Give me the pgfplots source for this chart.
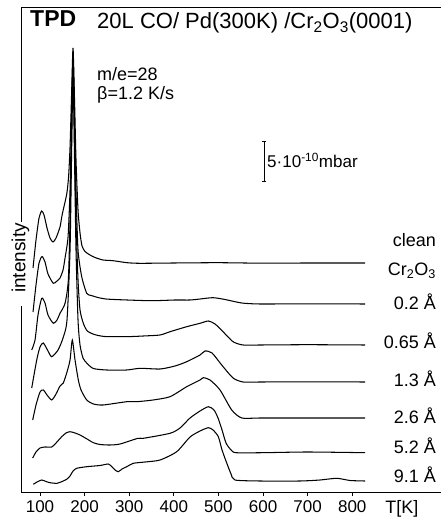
\documentclass[border=0pt]{standalone}
\usepackage{fontspec}
\setmainfont{Liberation Sans}
\usepackage{pgfplots}
\pgfplotsset{compat=1.18}
\newcommand\fs[1]{\fontsize{#1}{#1}\selectfont}
\begin{document}
\begin{tikzpicture}
\begin{axis}[
  name=ax,
  at={(0,0)}, anchor=south west,
  scale only axis, width=425pt, height=484pt,
  xmin=59.6, xmax=1012.5, ymin=0, ymax=484,
  axis line style={-, line width=1pt, black},
  xtick={100,200,...,800}, ytick=\empty, xtick pos=bottom,
  tick align=outside, major tick length=4pt,
  tick style={line width=0.9pt, black},
  xticklabel style={font=\fs{17}, yshift=-1pt},
  /pgf/number format/assume math mode=true,
  clip=false,
  curve/.style={black, solid, line width=1.05pt, no markers, smooth, tension=0.4},
]
% clean Cr2O3
\addplot[curve] coordinates {(84.3,224)(91,252)(97.8,274)(103.8,281)(109,277)(115.7,264)(122.4,254)(129.1,250)(135.9,254)(144.8,265)(148.7,275)(152,282)(159.9,298)(164,315)(167.3,345)(170.6,395)(174,444)(177.4,392)(180.7,332)(185.2,282)(189.7,259)(194.2,246)(200.9,240.5)(212.1,237)(223.3,234.5)(241.3,232)(263.7,231.3)(295.1,229.3)(324.2,228.7)(400,229)(500,229.3)(600,228.8)(700,229)(828.7,229)};
% 0.2
\addplot[curve] coordinates {(84.3,180)(91,207)(97.8,229)(104.5,235.5)(111.2,230)(117.9,218)(129.8,208.7)(138.1,211)(144.8,214)(151.6,222)(156.1,234)(162.8,255)(167.3,302)(170.6,372)(174,437)(177.4,372)(180.7,302)(185.2,242)(193.5,215.3)(204.7,198.7)(215,196.5)(234.5,194)(257,192.7)(346.6,191.3)(402.7,192)(436.3,192)(458.8,193)(487.9,194.3)(514.8,192.5)(552.3,189)(593.3,188)(700,188.2)(828.7,188)};
% 0.65
\addplot[curve] coordinates {(81.4,142)(88.8,152)(95.5,177)(103.8,193.7)(111.2,189)(117.9,177)(129.8,168.7)(138.1,172)(144.8,178.7)(156.1,188.7)(163.5,212)(167.3,272)(170.6,352)(174,430)(177.4,352)(180.7,272)(185.2,212)(189.7,182)(197.1,168.7)(206,161)(222,157.5)(245,155.5)(294.4,155.3)(331.6,156)(369.1,157)(391.5,160.3)(428.9,165.3)(458.8,168.7)(477.4,171)(492.4,168)(510.3,160.3)(532.7,150.3)(555.2,147)(593.3,147)(700,147.3)(828.7,147)};
% 1.3
\addplot[curve] coordinates {(81.4,104)(92.6,132)(100,145)(107.4,149)(117.9,141)(126.2,135.3)(140.4,142)(151.6,154)(160.5,172)(167.3,242)(170.6,332)(174,417)(177.4,332)(180.7,242)(185.2,172)(189.7,147)(196.4,134)(204.7,129)(219.5,123.5)(249.6,122)(294.4,122)(324.2,123.7)(369.1,123)(402.7,126)(428.9,130.3)(458.8,137)(470,141)(485.7,139)(507.4,127)(532.7,114)(555.2,110)(593.3,110)(700,110.2)(828.7,110)};
% 2.6
\addplot[curve] coordinates {(83.6,72)(91,87)(100,100)(107.4,102)(115.7,97)(126.2,92)(135.9,98)(144.8,106)(152.2,109)(160.5,120)(167.3,132)(172.4,152)(178.5,132)(185.9,112)(192,102)(204.7,92)(220,88)(241.3,87)(294.4,90.3)(316.8,90.3)(353.4,92)(391.5,95.3)(428.9,105.3)(458.8,112)(466.2,114.3)(481.2,112)(503.6,102)(529.8,82)(552.3,74)(593.3,74)(700,74)(828.7,74)};
% 5.2
\addplot[curve] coordinates {(83.6,34)(91,40)(100,44)(111.2,45)(126.2,45)(135.9,49)(148.7,55.3)(158.3,59)(167.3,60.3)(178.5,59)(189.7,57)(205.4,53)(219.5,49.3)(234.5,47.5)(257,47)(279.4,48)(319.7,53.7)(331.6,53.7)(391.5,58.7)(413.9,64)(436.3,74)(458.8,81)(477.4,85.3)(490.1,82)(499.1,74)(508.1,62)(517,49)(528.3,42)(539.5,39.3)(600,39.3)(700,40)(828.7,39.3)};
% 9.1
\addplot[curve] coordinates {(85,7.7)(93.3,10)(103.8,12)(113.5,10.5)(122.4,9.3)(138.1,8.7)(152.2,11)(160.5,13)(167.3,16)(174,21)(182.3,23.7)(204.7,25.3)(234.5,26.5)(253.1,28)(260.8,25.3)(268.2,22)(275.6,20.3)(283.9,23)(294.4,25.3)(309.2,28.7)(335.4,30)(369.1,32)(406.5,40.3)(436.3,55)(458.8,61)(477.4,64.3)(487.9,62)(499.8,55.3)(508.1,42)(518.6,29)(528.3,18)(537.2,12)(593.3,11)(683,11)(727.8,12)(765.3,13.7)(795.1,11.5)(828.7,11)};

% titles
\node[anchor=base west, font=\fs{23}\bfseries, inner sep=0pt] at (axis cs:77.6,465.5) {TPD};
\node[anchor=base west, font=\fs{22}, inner sep=0pt] at (axis cs:227.8,463) {20L CO/ Pd(300K) /Cr\textsubscript{2}O\textsubscript{3}(0001)};
\node[anchor=base west, font=\fs{18}, inner sep=0pt] at (axis cs:227.8,411) {m/e=28};
\node[anchor=base west, font=\fs{18}, inner sep=0pt] at (axis cs:227.8,392) {β=1.2 K/s};
% scale bar
\draw[line width=0.9pt] (axis cs:602.3,310.3) -- (axis cs:602.3,350.3);
\draw[line width=0.9pt] (axis cs:597,310.3) -- (axis cs:607.6,310.3);
\draw[line width=0.9pt] (axis cs:597,350.3) -- (axis cs:607.6,350.3);
\node[anchor=base west, font=\fs{17}, inner sep=0pt] at (axis cs:609,324) {5·10\textsuperscript{-10}mbar};
% intensity label
\node[rotate=90, anchor=base west, fill=white, inner sep=1pt, font=\fs{19}] at ([xshift=3.5pt]axis cs:59.6,186) {\hspace*{12pt}intensity};
% curve labels
\node[anchor=base east, font=\fs{18}, inner sep=0pt] at (axis cs:987.9,245) {clean};
\node[anchor=base east, font=\fs{18}, inner sep=0pt] at (axis cs:987.9,216) {Cr\textsubscript{2}O\textsubscript{3}};
\node[anchor=base east, font=\fs{18}, inner sep=0pt] at (axis cs:987.9,182) {0.2 Å};
\node[anchor=base east, font=\fs{18}, inner sep=0pt] at (axis cs:987.9,143) {0.65 Å};
\node[anchor=base east, font=\fs{18}, inner sep=0pt] at (axis cs:987.9,105.3) {1.3 Å};
\node[anchor=base east, font=\fs{18}, inner sep=0pt] at (axis cs:987.9,68.7) {2.6 Å};
\node[anchor=base east, font=\fs{18}, inner sep=0pt] at (axis cs:987.9,38) {5.2 Å};
\node[anchor=base east, font=\fs{18}, inner sep=0pt] at (axis cs:987.9,9.5) {9.1 Å};
\node[anchor=base west, font=\fs{18}, inner sep=0pt] at (axis cs:873.6,-21) {T[K]};
\end{axis}
\pgfresetboundingbox
\useasboundingbox (-22pt,-27pt) rectangle (419pt,492pt);
\end{tikzpicture}
\end{document}
